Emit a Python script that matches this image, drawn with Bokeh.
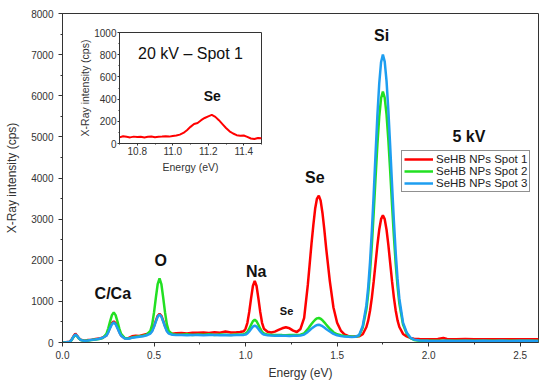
from bokeh.plotting import figure
from bokeh.models import (Range1d, SingleIntervalTicker, NumeralTickFormatter,
                          Legend, LegendItem, ColumnDataSource, GridBox)
from bokeh.core.properties import value
from bokeh.embed import file_html
from bokeh.resources import INLINE

FONT = "Liberation Sans"

# ---------------- data ----------------
energy = [0.00, 0.02, 0.04, 0.05, 0.06, 0.07, 0.08, 0.09, 0.10, 0.12, 0.14, 0.16, 0.18, 0.20, 0.22,
          0.24, 0.25, 0.26, 0.27, 0.28, 0.29, 0.30, 0.31, 0.32, 0.34,
          0.36, 0.38, 0.40, 0.42, 0.44, 0.46, 0.48,
          0.49, 0.50, 0.51, 0.52, 0.53, 0.54, 0.55, 0.56, 0.57, 0.58,
          0.60, 0.62, 0.65, 0.68, 0.71, 0.74, 0.77, 0.80, 0.83, 0.86, 0.89, 0.92, 0.95, 0.97, 0.99,
          1.00, 1.01, 1.02, 1.03, 1.04, 1.05, 1.06, 1.07, 1.08, 1.09, 1.10,
          1.12, 1.14, 1.16, 1.18, 1.20, 1.22, 1.24, 1.26, 1.28, 1.30, 1.32,
          1.34, 1.35, 1.36, 1.37, 1.38, 1.39, 1.40, 1.41, 1.42, 1.43, 1.44, 1.45, 1.46,
          1.48, 1.50, 1.52, 1.54, 1.56, 1.58, 1.60, 1.62, 1.64, 1.66,
          1.67, 1.68, 1.69, 1.70, 1.71, 1.72, 1.73, 1.74, 1.75, 1.76, 1.77, 1.78, 1.79, 1.80, 1.81, 1.82, 1.83, 1.84,
          1.86, 1.88, 1.90, 1.92, 1.95, 2.00, 2.05, 2.08, 2.10, 2.15, 2.20, 2.25, 2.30, 2.35, 2.40, 2.45, 2.50, 2.55, 2.60]

spot1 = [0, 5, 20, 70, 150, 215, 165, 100, 65, 45, 60, 70, 85, 95, 120,
         171, 260, 370, 472, 515, 472, 370, 260, 171, 105,
         105, 150, 165, 160, 185, 205, 240,
         295, 400, 530, 650, 700, 650, 530, 400, 295, 237,
         215, 225, 230, 220, 240, 235, 245, 230, 250, 240, 265, 245, 250, 255, 275,
         335, 479, 744, 1072, 1374, 1500, 1374, 1072, 744, 479, 335,
         260, 245, 265, 305, 345, 370, 345, 290, 255, 330, 600,
         1400, 1900, 2400, 2850, 3250, 3500, 3570, 3450, 3150, 2750, 2300, 1900, 1500,
         850, 480, 290, 200, 160, 140, 145, 150, 200, 376,
         538, 777, 1099, 1491, 1931, 2367, 2742, 2999, 3090, 2999, 2742, 2367, 1931, 1491, 1099, 777, 538, 376,
         208, 150, 110, 90, 85, 80, 85, 110, 85, 80, 85, 80, 78, 82, 80, 78, 80, 82, 80]

spot2 = [0, 5, 15, 60, 130, 185, 150, 95, 60, 40, 50, 60, 75, 85, 110,
         212, 346, 512, 666, 730, 666, 512, 346, 212, 110,
         95, 120, 140, 150, 165, 190, 284,
         442, 732, 1091, 1422, 1560, 1422, 1091, 732, 442, 284,
         200, 195, 190, 200, 185, 195, 190, 200, 185, 195, 190, 185, 195, 190, 200,
         218, 259, 336, 431, 518, 555, 518, 431, 336, 259, 218,
         192, 185, 180, 185, 180, 178, 182, 180, 180, 188, 222,
         325, 388, 450, 504, 554, 587, 595, 578, 541, 491, 437, 385, 335,
         250, 200, 175, 160, 150, 145, 140, 165, 366, 808,
         1195, 1725, 2393, 3168, 4008, 4813, 5486, 5939, 6100, 5951, 5540, 4914, 4157, 3352, 2590, 1916, 1368, 945,
         438, 220, 110, 60, 45, 40, 45, 42, 40, 45, 40, 42, 40, 45, 40, 42, 40, 45, 40]

spot3 = [0, 5, 20, 65, 140, 195, 160, 100, 60, 40, 50, 65, 75, 90, 115,
         165, 248, 350, 445, 485, 445, 350, 248, 165, 95,
         90, 115, 130, 140, 150, 175, 217,
         275, 380, 510, 630, 680, 630, 510, 380, 275, 217,
         190, 185, 180, 175, 185, 180, 175, 185, 180, 175, 180, 178, 180, 182, 185,
         193, 220, 270, 330, 386, 410, 386, 330, 270, 220, 193,
         177, 170, 165, 168, 162, 165, 160, 163, 165, 170, 192,
         258, 298, 337, 372, 403, 425, 430, 419, 396, 364, 329, 297, 266,
         210, 175, 155, 145, 140, 135, 140, 180, 400, 908,
         1354, 1965, 2733, 3625, 4592, 5518, 6293, 6815, 7000, 6829, 6355, 5635, 4764, 3838, 2960, 2184, 1553, 1066,
         483, 243, 120, 70, 50, 40, 38, 40, 42, 38, 40, 38, 40, 38, 40, 38, 42, 40, 38]

series_names = ["SeHB NPs Spot 1", "SeHB NPs Spot 2", "SeHB NPs Spot 3"]
series_colors = ["#ff0000", "#22e022", "#1e9ef0"]

# peak annotations (main plot)
peak_labels = ["C/Ca", "O", "Na", "Se", "Se", "Si", "5 kV"]
peak_x = [0.275, 0.537, 1.058, 1.224, 1.378, 1.743, 2.22]
peak_y = [1180, 2000, 1720, 770, 4010, 7460, 5010]
peak_sizes = ["16px", "16px", "16px", "11px", "16px", "16px", "16px"]

# inset: 20 kV, spot 1, Se L-line region
inset_energy = [10.70, 10.72, 10.74, 10.76, 10.78, 10.80, 10.82, 10.84, 10.86, 10.88, 10.90,
                10.92, 10.94, 10.96, 10.98, 11.00, 11.02, 11.04, 11.06, 11.08, 11.10,
                11.12, 11.14, 11.16, 11.18, 11.20, 11.22, 11.24, 11.26, 11.28, 11.30,
                11.32, 11.34, 11.36, 11.38, 11.40, 11.42, 11.44, 11.46, 11.48, 11.50]
inset_spot1 = [55, 65, 60, 55, 62, 58, 60, 55, 60, 63, 57,
               60, 62, 65, 62, 68, 72, 80, 95, 120, 150,
               175, 185, 210, 230, 245, 258, 240, 210, 175, 140,
               110, 90, 75, 70, 72, 60, 45, 40, 50, 48]
inset_labels = ["20 kV \u2013 Spot 1", "Se"]
inset_lx = [11.10, 11.223]
inset_ly = [808, 426]

AX = "#333333"

# ---------------- main figure ----------------
p = figure(width=548, height=386, output_backend="svg", toolbar_location=None,
           x_range=Range1d(0, 2.6), y_range=Range1d(0, 8000),
           min_border_left=62, min_border_right=10, min_border_top=11, min_border_bottom=43)
p.xgrid.visible = False
p.ygrid.visible = False
p.outline_line_color = AX
p.background_fill_color = "white"
p.border_fill_color = "white"

p.xaxis.ticker = SingleIntervalTicker(interval=0.5, num_minor_ticks=2)
p.yaxis.ticker = SingleIntervalTicker(interval=1000, num_minor_ticks=2)
p.xaxis.formatter = NumeralTickFormatter(format="0.0")
p.xaxis.axis_label = "Energy (eV)"
p.yaxis.axis_label = "X-Ray intensity (cps)"
for ax in (p.xaxis[0], p.yaxis[0]):
    ax.axis_line_color = AX
    ax.major_tick_line_color = AX
    ax.minor_tick_line_color = AX
    ax.major_tick_in = 0
    ax.major_tick_out = 4
    ax.minor_tick_in = 0
    ax.minor_tick_out = 2
    ax.major_label_text_font = FONT
    ax.major_label_text_font_size = "10px"
    ax.major_label_text_color = "#333333"
    ax.axis_label_text_font = FONT
    ax.axis_label_text_font_size = "12px"
    ax.axis_label_text_font_style = "normal"
    ax.axis_label_text_color = "#333333"
p.xaxis.major_label_standoff = 4
p.xaxis.axis_label_standoff = 4
p.yaxis.major_label_standoff = 5
p.yaxis.axis_label_standoff = 9

src = ColumnDataSource(dict(x=energy, s1=spot1, s2=spot2, s3=spot3))
renderers = []
for col, color in zip(["s1", "s2", "s3"], series_colors):
    r = p.line("x", col, source=src, line_color=color, line_width=2.5)
    renderers.append(r)

ann = ColumnDataSource(dict(x=peak_x, y=peak_y, t=peak_labels, s=peak_sizes))
p.text("x", "y", text="t", source=ann, text_font=value(FONT), text_font_size="s",
       text_font_style="bold", text_align="center", text_baseline="middle", text_color="#111111")

legend = Legend(items=[LegendItem(label=n, renderers=[r]) for n, r in zip(series_names, renderers)],
                location=(339, 150), orientation="vertical",
                label_text_font=FONT, label_text_font_size="11.5px", label_text_color="#222222",
                label_height=12, glyph_height=12, glyph_width=29, label_standoff=3,
                spacing=0, padding=2, margin=0,
                border_line_color="#222222", border_line_width=1,
                background_fill_color="white", background_fill_alpha=1.0)
p.add_layout(legend)

# ---------------- inset figure ----------------
ins = figure(width=214, height=168, output_backend="svg", toolbar_location=None,
             x_range=Range1d(10.7, 11.5), y_range=Range1d(0, 1000),
             min_border_left=58, min_border_right=3, min_border_top=13, min_border_bottom=44)
ins.margin = (19, 0, 0, 57)
ins.xgrid.visible = False
ins.ygrid.visible = False
ins.outline_line_color = AX
ins.background_fill_color = "white"
ins.border_fill_alpha = 0.0
ins.xaxis.ticker = SingleIntervalTicker(interval=0.2, num_minor_ticks=2)
ins.yaxis.ticker = SingleIntervalTicker(interval=200, num_minor_ticks=2)
ins.xaxis.formatter = NumeralTickFormatter(format="0.0")
ins.xaxis.axis_label = "Energy (eV)"
ins.yaxis.axis_label = "X-Ray intensity (cps)"
for ax in (ins.xaxis[0], ins.yaxis[0]):
    ax.axis_line_color = AX
    ax.major_tick_line_color = AX
    ax.minor_tick_line_color = AX
    ax.major_tick_in = 0
    ax.major_tick_out = 2
    ax.minor_tick_in = 0
    ax.minor_tick_out = 1
    ax.major_label_text_font = FONT
    ax.major_label_text_font_size = "10px"
    ax.major_label_text_color = "#333333"
    ax.axis_label_text_font = FONT
    ax.axis_label_text_font_size = "10.5px"
    ax.axis_label_text_font_style = "normal"
    ax.axis_label_text_color = "#333333"
ins.xaxis.major_label_standoff = 1
ins.xaxis.axis_label_standoff = 3
ins.yaxis.major_label_standoff = 1
ins.yaxis.axis_label_standoff = 0

ins.line(inset_energy, inset_spot1, line_color=series_colors[0], line_width=2)
ins.text(inset_lx[:1], inset_ly[:1], text=inset_labels[:1], text_font=value(FONT), text_font_size="16px",
         text_align="center", text_baseline="middle", text_color="#111111")
ins.text(inset_lx[1:], inset_ly[1:], text=inset_labels[1:], text_font=value(FONT), text_font_size="14px",
         text_font_style="bold", text_align="center", text_baseline="middle", text_color="#111111")

layout = GridBox(children=[(p, 0, 0), (ins, 0, 0)])

open("out.html", "w").write(file_html(layout, INLINE))
